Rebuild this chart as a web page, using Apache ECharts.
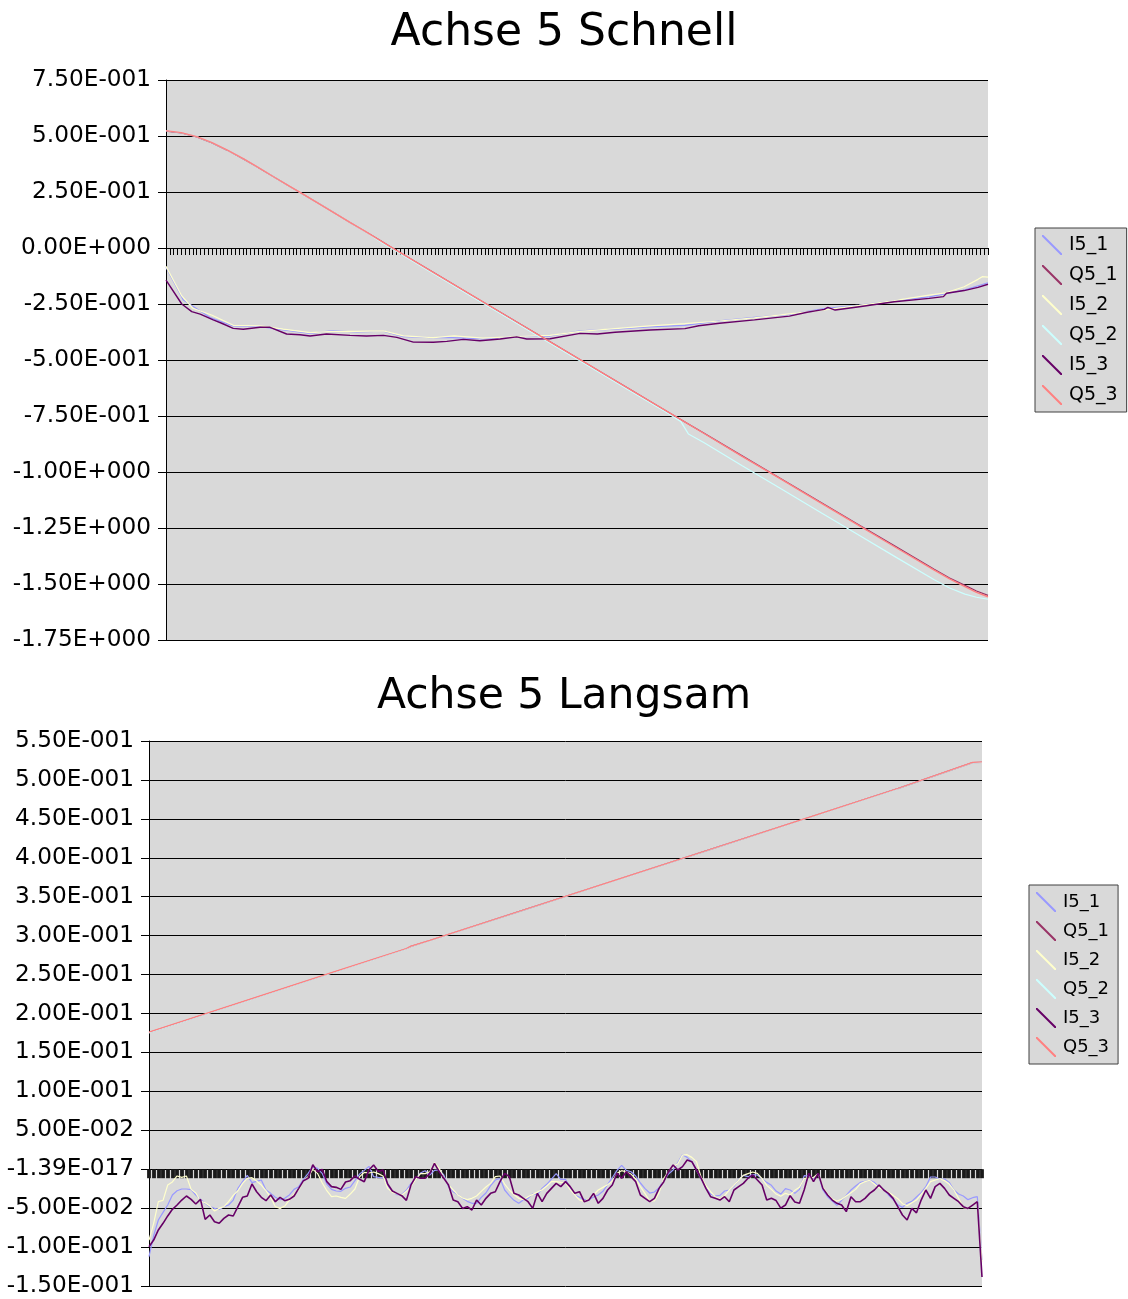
<!DOCTYPE html>
<html><head><meta charset="utf-8">
<script src="https://cdn.jsdelivr.net/npm/echarts/dist/echarts.min.js"></script>
<style>html,body{margin:0;padding:0;background:#fff}#c{width:1128px;height:1299px}</style>
</head><body><div id="c"></div><script>
const seriesNames = ['I5_1','Q5_1','I5_2','Q5_2','I5_3','Q5_3'];
const seriesColors = ['#9999FF','#993366','#FFFFCC','#CCFFFF','#660066','#FF8080'];
const titles = ['Achse 5 Schnell','Achse 5 Langsam'];
const topYTicks = ['-1.75E+000','-1.50E+000','-1.25E+000','-1.00E+000','-7.50E-001','-5.00E-001','-2.50E-001','0.00E+000','2.50E-001','5.00E-001','7.50E-001'];
const bottomYTicks = ['-1.50E-001','-1.00E-001','-5.00E-002','-1.39E-017','5.00E-002','1.00E-001','1.50E-001','2.00E-001','2.50E-001','3.00E-001','3.50E-001','4.00E-001','4.50E-001','5.00E-001','5.50E-001'];

// ---- Top chart (Achse 5 Schnell): [sample, value] readings ----
const top_I5_1 = [[0,-0.086],[4.5,-0.232],[11.5,-0.31],[17.5,-0.348],[24.5,-0.351],[30.5,-0.366],[37.5,-0.381],[43.5,-0.369],[49.6,-0.375],[56.6,-0.371],[61.8,-0.396],[69.6,-0.4],[73.1,-0.399],[82.5,-0.406],[91.3,-0.396],[100,-0.393],[107.8,-0.37],[116.9,-0.362],[126,-0.352],[135.1,-0.345],[144.1,-0.325],[153.2,-0.31],[162.3,-0.296],[171.4,-0.27],[180.5,-0.255],[189.6,-0.235],[198.7,-0.218],[207.8,-0.188],[214,-0.155]];
const top_Q5_1 = [[0,0.522],[4,0.514],[8,0.496],[12,0.469],[16,0.436],[20,0.399],[24,0.359],[28,0.318],[32,0.277],[36,0.237],[40,0.196],[44,0.155],[48,0.113],[52,0.073],[56,0.031],[60,-0.011],[70,-0.113],[80,-0.215],[90,-0.317],[100,-0.419],[110,-0.521],[120,-0.623],[130,-0.725],[140,-0.826],[150,-0.928],[160,-1.029],[170,-1.131],[180,-1.232],[190,-1.333],[200,-1.434],[204,-1.473],[208,-1.506],[211,-1.531],[214,-1.551]];
const top_I5_2 = [[0,-0.082],[4.1,-0.214],[7,-0.269],[12,-0.3],[17.5,-0.345],[24.5,-0.348],[30.5,-0.362],[37.5,-0.378],[43.5,-0.372],[49.6,-0.372],[56.6,-0.37],[61.8,-0.392],[69.6,-0.4],[75,-0.392],[82.5,-0.402],[91.3,-0.395],[100,-0.39],[107.8,-0.372],[116.9,-0.36],[126,-0.348],[135.1,-0.338],[144.1,-0.326],[153.2,-0.312],[162.3,-0.294],[171.4,-0.276],[180.5,-0.256],[189.6,-0.235],[198.7,-0.21],[203,-0.2],[207.8,-0.173],[211.4,-0.14],[212.5,-0.128],[214,-0.13]];
const top_Q5_2 = [[0,0.524],[4,0.515],[8,0.497],[12,0.47],[16,0.437],[20,0.4],[24,0.36],[28,0.318],[32,0.277],[36,0.237],[40,0.196],[44,0.155],[48,0.113],[52,0.072],[56,0.026],[60,-0.016],[70,-0.118],[80,-0.221],[90,-0.323],[100,-0.425],[110,-0.527],[120,-0.629],[130,-0.731],[134,-0.774],[136,-0.83],[140,-0.868],[150,-0.972],[160,-1.074],[170,-1.176],[180,-1.278],[190,-1.38],[200,-1.481],[204,-1.518],[208,-1.545],[211,-1.559],[214,-1.568]];
const top_I5_3 = [[0,-0.143],[4.1,-0.25],[6.7,-0.284],[8.9,-0.295],[12.3,-0.321],[14.5,-0.336],[17.5,-0.359],[20.1,-0.363],[24.5,-0.354],[27.1,-0.354],[31.4,-0.384],[34.9,-0.387],[37.5,-0.393],[41.8,-0.384],[47.9,-0.39],[52.2,-0.393],[56.6,-0.39],[60.1,-0.399],[64.4,-0.42],[69.6,-0.421],[73.1,-0.417],[77.4,-0.408],[81.7,-0.414],[87,-0.406],[91.3,-0.397],[93.9,-0.406],[100,-0.405],[107.8,-0.381],[112.3,-0.384],[116.9,-0.376],[126,-0.366],[135.1,-0.36],[138.7,-0.347],[144.1,-0.336],[153.2,-0.321],[162.3,-0.304],[166.9,-0.287],[171.4,-0.274],[172.3,-0.265],[174.2,-0.277],[180.5,-0.262],[189.6,-0.24],[198.7,-0.225],[202.4,-0.217],[203.2,-0.202],[207.8,-0.19],[211.4,-0.176],[214,-0.162]];
const top_Q5_3 = [[0,0.524],[4,0.515],[8,0.497],[12,0.47],[16,0.437],[20,0.4],[24,0.36],[28,0.318],[32,0.277],[36,0.237],[40,0.196],[44,0.155],[48,0.113],[52,0.073],[56,0.031],[60,-0.011],[70,-0.113],[80,-0.215],[90,-0.317],[100,-0.419],[110,-0.521],[120,-0.623],[130,-0.725],[140,-0.827],[150,-0.93],[160,-1.031],[170,-1.133],[180,-1.235],[190,-1.337],[200,-1.438],[204,-1.477],[208,-1.512],[211,-1.537],[214,-1.557]];

// ---- Bottom chart (Achse 5 Langsam): I series, one value per sample 0..178 ----
const bot_I5_1 = [-0.1123,-0.0854,-0.0652,-0.0554,-0.046,-0.0331,-0.0276,-0.0254,-0.0254,-0.0263,-0.0331,-0.0387,-0.0438,-0.0481,-0.0503,-0.0516,-0.0481,-0.046,-0.0396,-0.0246,-0.016,-0.0079,-0.0173,-0.0156,-0.0139,-0.0267,-0.031,-0.0361,-0.0392,-0.0374,-0.0331,-0.0259,-0.0224,-0.013,-0.0053,0.0033,0.0011,-0.0053,-0.019,-0.0259,-0.028,-0.0284,-0.0246,-0.0229,-0.0147,
-0.0062,-0.0015,0.0037,-0.0096,-0.0104,-0.0109,-0.0203,-0.028,-0.0327,-0.0323,-0.0271,-0.0182,-0.0126,-0.0049,-0.0019,-0.0074,-0.0015,-0.001,-0.0074,-0.0224,-0.0289,-0.0323,-0.0374,-0.0413,-0.0438,-0.0438,-0.0361,-0.0306,-0.0211,-0.0139,-0.0117,-0.0267,-0.034,-0.04,-0.0438,-0.0396,-0.0374,-0.0314,-0.0327,-0.0246,-0.0194,-0.0126,-0.0057,-0.013,-0.013,
-0.0241,-0.0331,-0.0361,-0.0391,-0.0391,-0.0357,-0.0331,-0.0284,-0.0199,-0.0109,-0.0015,0.005,-0.0015,-0.0032,-0.0087,-0.0177,-0.025,-0.0306,-0.0293,-0.0237,-0.0139,-0.0062,-0.001,0.0084,0.0187,0.0152,0.0097,-0.0015,-0.0126,-0.0237,-0.0319,-0.0344,-0.0336,-0.028,-0.0267,-0.022,-0.013,-0.0079,-0.0096,-0.007,-0.0074,-0.0122,-0.0169,-0.0207,
-0.028,-0.0319,-0.025,-0.0267,-0.031,-0.0259,-0.0083,-0.0087,-0.0117,-0.0057,-0.0267,-0.0353,-0.0408,-0.0464,-0.04,-0.0336,-0.0267,-0.0216,-0.0169,-0.0156,-0.0143,-0.0169,-0.0229,-0.0259,-0.0331,-0.0391,-0.0456,-0.049,-0.0438,-0.0413,-0.0357,-0.0301,-0.0224,-0.01,-0.01,-0.013,-0.0126,-0.0169,-0.0267,-0.0319,-0.0344,-0.0391,-0.0366,-0.0353,-0.1166];
const bot_I5_2 = [-0.091,-0.0695,-0.0417,-0.04,-0.0203,-0.0164,-0.0087,-0.0104,-0.0087,-0.0259,-0.0306,-0.0408,-0.043,-0.0473,-0.0537,-0.0503,-0.0481,-0.0417,-0.0336,-0.0276,-0.0182,-0.0117,-0.0109,-0.0152,-0.0203,-0.0276,-0.0361,-0.0481,-0.0503,-0.0473,-0.0396,-0.0319,-0.0267,-0.0147,-0.0096,-0.0002,-0.0053,-0.0173,-0.0276,-0.0353,-0.0344,-0.0361,-0.0374,-0.0319,-0.0254,
-0.0096,-0.004,-0.0049,-0.0036,-0.0057,-0.0087,-0.0246,-0.0297,-0.0314,-0.0331,-0.0284,-0.0216,-0.013,-0.0057,-0.0057,-0.0032,0.0084,0.0011,-0.0104,-0.0203,-0.0267,-0.0327,-0.037,-0.0391,-0.0374,-0.0344,-0.0284,-0.0229,-0.0182,-0.0096,-0.0087,-0.019,-0.0267,-0.0327,-0.0374,-0.0391,-0.0353,-0.0323,-0.0293,-0.0263,-0.0216,-0.016,-0.016,-0.0169,-0.0177,
-0.0263,-0.0331,-0.0396,-0.0413,-0.0378,-0.0331,-0.0267,-0.0233,-0.0199,-0.0156,-0.0053,-0.0019,-0.0036,-0.0062,-0.0126,-0.0224,-0.0314,-0.0408,-0.0408,-0.0301,-0.0117,-0.0032,0.0033,0.0071,0.0182,0.0187,0.0152,0.0097,-0.0104,-0.0211,-0.0289,-0.0353,-0.0383,-0.034,-0.0267,-0.0207,-0.0139,-0.0079,-0.0057,-0.0036,-0.0053,-0.0122,-0.0207,-0.0259,
-0.0319,-0.0348,-0.031,-0.0331,-0.0271,-0.0233,-0.0117,-0.0113,-0.0104,-0.0057,-0.0229,-0.0319,-0.0383,-0.0408,-0.0387,-0.0344,-0.0301,-0.0259,-0.0186,-0.016,-0.0143,-0.019,-0.0237,-0.0263,-0.0297,-0.0336,-0.0378,-0.0443,-0.0468,-0.043,-0.0396,-0.0323,-0.0246,-0.016,-0.0139,-0.0122,-0.0147,-0.019,-0.0267,-0.0374,-0.0494,-0.0503,-0.046,-0.0417,-0.119];
const bot_I5_3 = [-0.0995,-0.091,-0.078,-0.0695,-0.06,-0.0515,-0.046,-0.0396,-0.0344,-0.0387,-0.0447,-0.0387,-0.0644,-0.0588,-0.0674,-0.0695,-0.0631,-0.0588,-0.0601,-0.0481,-0.0361,-0.0344,-0.019,-0.0289,-0.0361,-0.0404,-0.0331,-0.0417,-0.0361,-0.0404,-0.0387,-0.0344,-0.0246,-0.0147,-0.0117,0.0058,-0.0032,-0.0002,-0.016,-0.0224,-0.0233,-0.0259,-0.0164,-0.0147,-0.0087,
-0.013,-0.016,-0.001,0.0054,-0.003,-0.001,-0.019,-0.028,-0.031,-0.034,-0.04,-0.02,-0.0096,-0.0117,-0.0117,-0.0053,0.0075,-0.0032,-0.0117,-0.0203,-0.0396,-0.0417,-0.0503,-0.0481,-0.0524,-0.0396,-0.046,-0.0374,-0.031,-0.0289,-0.016,-0.0053,-0.0096,-0.031,-0.0331,-0.0374,-0.0417,-0.0503,-0.031,-0.0417,-0.031,-0.0246,-0.0182,-0.0224,-0.016,
-0.0224,-0.031,-0.0289,-0.0417,-0.0396,-0.031,-0.0438,-0.0374,-0.0267,-0.0203,-0.0053,-0.0117,-0.0032,-0.0096,-0.016,-0.0331,-0.0374,-0.0417,-0.0374,-0.0246,-0.016,-0.0032,0.0054,-0.001,0.0033,0.0118,0.0097,-0.001,-0.0117,-0.0246,-0.0353,-0.0374,-0.0396,-0.0353,-0.0417,-0.0267,-0.0224,-0.0182,-0.0117,-0.0074,-0.0139,-0.0203,-0.0396,-0.0374,
-0.0403,-0.05,-0.046,-0.034,-0.042,-0.0438,-0.0267,-0.0053,-0.016,-0.0053,-0.0246,-0.0331,-0.0396,-0.0438,-0.046,-0.0545,-0.0353,-0.0417,-0.0417,-0.0374,-0.031,-0.0267,-0.0203,-0.0267,-0.031,-0.0374,-0.0481,-0.0588,-0.0652,-0.0503,-0.056,-0.0396,-0.0267,-0.0374,-0.0224,-0.0182,-0.0246,-0.0331,-0.0374,-0.0417,-0.0481,-0.0503,-0.046,-0.0417,-0.1385];
// Bottom chart Q series: [sample, value] readings
const bot_Q5_1 = [[0,0.1755],[20,0.2148],[40,0.254],[55,0.2832],[56,0.2862],[60,0.2938],[80,0.3328],[100,0.3718],[120,0.4108],[140,0.4498],[160,0.4888],[176,0.5222],[178,0.5226]];
const bot_Q5_2 = [[0,0.1752],[20,0.2145],[40,0.2538],[55,0.283],[56,0.286],[60,0.2936],[80,0.3326],[100,0.3716],[120,0.4106],[140,0.4496],[160,0.4886],[176,0.522],[178,0.5224]];
const bot_Q5_3 = [[0,0.176],[20,0.2152],[40,0.2545],[55,0.2835],[56,0.2865],[60,0.294],[80,0.333],[100,0.372],[120,0.411],[140,0.45],[160,0.489],[176,0.5225],[178,0.523]];

const FONT = 'DejaVu Sans';
const topData = [top_I5_1, top_Q5_1, top_I5_2, top_Q5_2, top_I5_3, top_Q5_3];
const botData = [bot_I5_1.map((v,i)=>[i,v]), bot_Q5_1, bot_I5_2.map((v,i)=>[i,v]), bot_Q5_2, bot_I5_3.map((v,i)=>[i,v]), bot_Q5_3];

const legendIcon = 'path://M0,0L1.4,0L20,18.6L20,20L18.6,20L0,1.4Z';
function legendCfg(left, top, gap, fs, pad){
  return {
    data: seriesNames, orient: 'vertical', left: left, top: top,
    itemGap: gap, itemWidth: 20, itemHeight: 20, icon: legendIcon,
    padding: pad, backgroundColor: '#D9D9D9', borderColor: '#404040', borderWidth: 1, borderRadius: 0,
    textStyle: {fontFamily: FONT, fontSize: fs, color: '#000', padding: [0,0,0,2]},
    selectedMode: false
  };
}
function yAxisCfg(gi, min, max, interval, labels){
  return {
    gridIndex: gi, type: 'value', min: min, max: max, interval: interval,
    axisLine: {show: true, lineStyle: {color: '#000', width: 1}},
    axisTick: {show: true, length: 8, lineStyle: {color: '#000'}},
    axisLabel: {margin: 15, fontFamily: FONT, fontSize: 23.2, color: '#000',
      formatter: (v, i) => labels[i]},
    splitLine: {show: true, lineStyle: {color: '#000', width: 1}}
  };
}
function xAxisCfg(gi, max, tickLen, tickW, tickColor){
  return {
    gridIndex: gi, type: 'value', min: 0, max: max, interval: 1,
    axisLine: {onZero: true, lineStyle: {color: '#000', width: 1}},
    axisTick: {show: true, length: tickLen, lineStyle: {color: tickColor, width: tickW}},
    axisLabel: {show: false}, splitLine: {show: false}
  };
}
const series = [];
seriesNames.forEach((n, k) => {
  series.push({name: n, type: 'line', xAxisIndex: 0, yAxisIndex: 0, data: topData[k], symbol: 'none',
    lineStyle: {color: seriesColors[k], width: (k===4||k===5)?1.4:1.2}, itemStyle: {color: seriesColors[k]}, z: 2 + k});
});
seriesNames.forEach((n, k) => {
  series.push({name: n, type: 'line', xAxisIndex: 1, yAxisIndex: 1, data: botData[k], symbol: 'none',
    lineStyle: {color: seriesColors[k], width: (k===4)?1.6:1.2}, itemStyle: {color: seriesColors[k]}, z: 2 + k});
});

const option = {
  animation: false,
  backgroundColor: '#fff',
  title: [
    {text: titles[0], left: 'center', top: 7, textStyle: {fontFamily: FONT, fontSize: 44, fontWeight: 'normal', color: '#000'}},
    {text: titles[1], left: 'center', top: 670, textStyle: {fontFamily: FONT, fontSize: 42.5, fontWeight: 'normal', color: '#000'}}
  ],
  grid: [
    {left: 166, top: 80, width: 822, height: 560, show: true, backgroundColor: '#D9D9D9', borderWidth: 0},
    {left: 149, top: 741, width: 833, height: 545, show: true, backgroundColor: '#D9D9D9', borderWidth: 0}
  ],
  xAxis: [xAxisCfg(0, 214, 7, 1, '#000'), xAxisCfg(1, 178, 9, 3.8, '#1a1a1a')],
  yAxis: [yAxisCfg(0, -1.75, 0.75, 0.25, topYTicks), yAxisCfg(1, -0.15, 0.55, 0.05, bottomYTicks)],
  legend: [legendCfg(1035, 228, 10, 19, [7,9,7,7]), legendCfg(1029, 885, 9, 18, [7,9,7,7])],
  series: series
};
const chart = echarts.init(document.getElementById('c'), null, {renderer: 'canvas'});
chart.setOption(option);
</script></body></html>
